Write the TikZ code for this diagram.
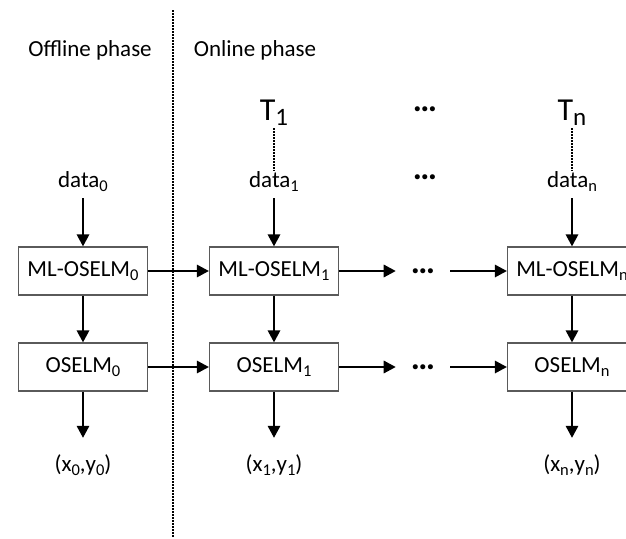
\documentclass[tikz,border=0pt]{standalone}
\usepackage{fontspec}
\setmainfont{Carlito}
\usetikzlibrary{arrows.meta}
\definecolor{boxgray}{RGB}{90,90,90}
\newcommand\mysub[1]{\raisebox{-4.5pt}{\fontsize{16.5}{17}\selectfont #1}}
\newcommand\bigsub[1]{\raisebox{-5pt}{\fontsize{25}{25}\selectfont #1}}
\begin{document}
\begin{tikzpicture}[x=1pt,y=-1pt,
  lbl/.style={font=\fontsize{23}{27}\selectfont, inner sep=0pt},
  datalbl/.style={lbl, anchor=base, text height=16pt, text depth=11pt},
  outlbl/.style={lbl, anchor=base, text height=33pt, text depth=6pt},
  tlbl/.style={font=\fontsize{32}{36}\selectfont, inner sep=0pt, anchor=base, text height=22pt, text depth=8pt},
  box/.style={draw=boxgray, line width=1.3pt, minimum width=129pt, minimum height=48pt, font=\fontsize{23}{27}\selectfont, inner sep=0pt},
  dotsnode/.style={font=\fontsize{34}{36}\selectfont\bfseries, inner ysep=0pt, inner xsep=15pt},
  arr/.style={-{Triangle[length=12pt,width=12.5pt]}, line width=1.7pt},
  divline/.style={line width=1.5pt, dash pattern=on 1.5pt off 1.5pt},
  tline/.style={line width=1.4pt, dash pattern=on 1.5pt off 1.5pt}]
\useasboundingbox (0,0) rectangle (626,538);
\clip (0,0) rectangle (626,538);
% phase divider
\coordinate (divtop) at (173,10);
\coordinate (divbot) at (173,538);
\draw[divline] (divtop) -- (divbot);
% phase labels
\node[lbl] (offl) at (90,50) {Offline phase};
\node[lbl] (onl) at (255,50) {Online phase};
% T labels
\node[tlbl] (T1) at (274,120) {T\bigsub{1}};
\node[tlbl] (Tn) at (572,120) {T\bigsub{n}};
% data labels
\node[datalbl] (d0) at (83,187) {data\mysub{0}};
\node[datalbl] (d1) at (274,187) {data\mysub{1}};
\node[datalbl] (dn) at (572,187) {data\mysub{n}};
% dots
\node[dotsnode] (dt) at (425,109) {…};
\node[dotsnode] (dd) at (425,177) {…};
% boxes
\node[box] (m0) at (83,271) {ML-OSELM\mysub{0}};
\node[box] (m1) at (274,271) {ML-OSELM\mysub{1}};
\node[box] (mn) at (572,271) {ML-OSELM\mysub{n}};
\node[box] (o0) at (83,367) {OSELM\mysub{0}};
\node[box] (o1) at (274,367) {OSELM\mysub{1}};
\node[box] (on) at (572,367) {OSELM\mysub{n}};
\node[dotsnode] (dm) at (423,271) {…};
\node[dotsnode] (do) at (423,367) {…};
% outputs
\node[outlbl] (x0) at (83,471) {(x\mysub{0},y\mysub{0})};
\node[outlbl] (x1) at (274,471) {(x\mysub{1},y\mysub{1})};
\node[outlbl] (xn) at (572,471) {(x\mysub{n},y\mysub{n})};
% T to data
\draw[tline] (T1.south) -- (d1.north);
\draw[tline] (Tn.south) -- (dn.north);
% data to boxes
\draw[arr] (d0.south) -- (m0.north);
\draw[arr] (d1.south) -- (m1.north);
\draw[arr] (dn.south) -- (mn.north);
% ML to OSELM
\draw[arr] (m0.south) -- (o0.north);
\draw[arr] (m1.south) -- (o1.north);
\draw[arr] (mn.south) -- (on.north);
% OSELM to outputs
\draw[arr] (o0.south) -- (x0.north);
\draw[arr] (o1.south) -- (x1.north);
\draw[arr] (on.south) -- (xn.north);
% horizontal chains
\draw[arr] (m0.east) -- (m1.west);
\draw[arr] (m1.east) -- (dm.west);
\draw[arr] (dm.east) -- (mn.west);
\draw[arr] (o0.east) -- (o1.west);
\draw[arr] (o1.east) -- (do.west);
\draw[arr] (do.east) -- (on.west);
\end{tikzpicture}
\end{document}
